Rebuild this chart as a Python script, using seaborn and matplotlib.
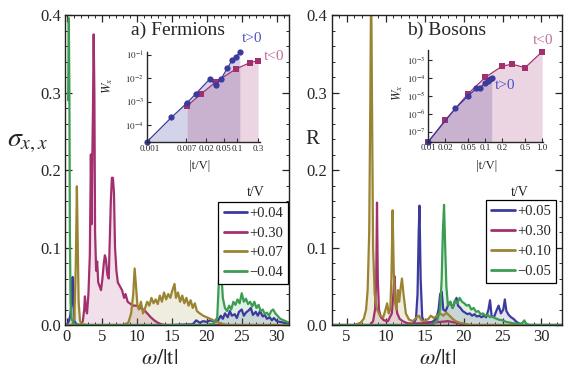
import numpy as np
import matplotlib
matplotlib.use('Agg')
import matplotlib.pyplot as plt
import seaborn as sns
from matplotlib.ticker import MultipleLocator, FixedLocator, NullLocator

# spectra (omega/|t| vs sigma or R)

# a) Fermions
fer_labels = ['+0.04', '+0.30', '+0.07', '\u22120.04']

fer_w_blue = [0.0, 0.3, 0.5, 0.7, 0.85, 0.95, 1.1, 1.4, 2, 5, 10, 15, 18, 18.5, 19, 19.5, 20, 20.5, 21, 21.5,
              22, 22.3, 22.6, 23, 23.3, 23.6, 24, 24.3, 24.6, 25, 25.3, 25.6, 26, 26.3, 26.6, 27, 27.3, 27.6,
              28, 28.3, 28.6, 29, 29.3, 29.6, 30, 30.5, 31, 31.5, 32]
fer_s_blue = [0.0, 0.005, 0.012, 0.03, 0.062, 0.03, 0.005, 0.001, 0, 0, 0, 0, 0.001, 0.006, 0.003, 0.005, 0.004,
              0.006, 0.005, 0.004, 0.012, 0.008, 0.015, 0.01, 0.018, 0.012, 0.014, 0.009, 0.017, 0.02, 0.012,
              0.016, 0.019, 0.022, 0.013, 0.017, 0.012, 0.018, 0.011, 0.013, 0.008, 0.01, 0.006, 0.009, 0.005,
              0.004, 0.003, 0.002, 0.001]

fer_w_pink = [0, 2.0, 2.3, 2.5, 2.6, 2.75, 2.9, 3.1, 3.3, 3.45, 3.55, 3.65, 3.75, 3.85, 3.95, 4.05, 4.2, 4.35,
              4.5, 4.7, 4.9, 5.1, 5.3, 5.45, 5.6, 5.8, 6.0, 6.15, 6.3, 6.45, 6.6, 6.75, 6.9, 7.1, 7.3, 7.6, 7.9,
              8.2, 8.4, 8.7, 9.0, 9.5, 10, 10.5, 11, 11.5, 12, 12.5, 13, 13.5, 14, 32]
fer_s_pink = [0, 0, 0.005, 0.02, 0.037, 0.02, 0.015, 0.04, 0.09, 0.22, 0.13, 0.21, 0.28, 0.375, 0.3, 0.12,
              0.07, 0.082, 0.055, 0.05, 0.045, 0.06, 0.08, 0.09, 0.085, 0.065, 0.06, 0.11, 0.16, 0.19, 0.19,
              0.17, 0.1, 0.07, 0.055, 0.05, 0.045, 0.035, 0.04, 0.03, 0.028, 0.025, 0.025, 0.022, 0.02, 0.015,
              0.01, 0.006, 0.003, 0.001, 0, 0]

fer_w_tan = [0, 0.8, 1.1, 1.3, 1.45, 1.55, 1.7, 1.9, 2.2, 3, 5, 8, 8.8, 9.2, 9.5, 9.7, 9.9, 10.1, 10.3, 10.6,
             10.9, 11.2, 11.5, 11.8, 12.1, 12.4, 12.7, 13, 13.3, 13.6, 13.9, 14.2, 14.5, 14.8, 15.1, 15.4, 15.6,
             15.9, 16.2, 16.5, 16.8, 17.1, 17.4, 17.7, 18, 18.3, 18.6, 19, 19.5, 20, 20.5, 21, 21.5, 22, 23, 32]
fer_s_tan = [0, 0, 0.01, 0.08, 0.179, 0.12, 0.03, 0.005, 0.001, 0, 0, 0, 0.003, 0.015, 0.04, 0.073, 0.05,
             0.025, 0.02, 0.03, 0.015, 0.022, 0.03, 0.025, 0.035, 0.028, 0.033, 0.027, 0.038, 0.03, 0.042,
             0.033, 0.04, 0.035, 0.045, 0.053, 0.035, 0.042, 0.03, 0.038, 0.028, 0.035, 0.025, 0.032, 0.022,
             0.028, 0.018, 0.015, 0.012, 0.01, 0.008, 0.006, 0.004, 0.002, 0, 0]

fer_w_green = [0.2, 0.3, 0.38, 0.45, 0.55, 0.7, 1.0, 1.5, 5, 15, 20, 21, 21.5, 21.7, 21.9, 22.1, 22.3, 22.6,
               22.9, 23.2, 23.5, 23.8, 24.1, 24.4, 24.7, 25, 25.3, 25.6, 25.9, 26.2, 26.5, 26.8, 27.1, 27.4,
               27.7, 28, 28.3, 28.6, 28.9, 29.2, 29.5, 29.8, 30.1, 30.5, 31, 31.5, 32]
fer_s_green = [0.29, 0.396, 0.3, 0.12, 0.03, 0.008, 0.002, 0, 0, 0, 0, 0.002, 0.01, 0.05, 0.075, 0.065, 0.035,
               0.022, 0.018, 0.025, 0.02, 0.03, 0.026, 0.033, 0.028, 0.041, 0.03, 0.034, 0.027, 0.03, 0.024,
               0.03, 0.022, 0.026, 0.018, 0.02, 0.014, 0.016, 0.012, 0.018, 0.02, 0.015, 0.012, 0.008, 0.006,
               0.004, 0.002]

# b) Bosons
bos_labels = ['+0.05', '+0.30', '+0.10', '\u22120.05']

bos_w_blue = [3, 13.5, 13.9, 14.1, 14.25, 14.35, 14.5, 14.7, 15, 16, 16.5, 16.8, 17.0, 17.2, 17.4, 17.7, 18,
              18.3, 18.6, 18.9, 19.1, 19.3, 19.6, 19.9, 20.2, 20.5, 20.8, 21.1, 21.4, 21.7, 22, 22.3, 22.6,
              22.9, 23.2, 23.4, 23.6, 23.9, 24.2, 24.5, 24.8, 25.1, 25.3, 25.5, 25.8, 26.1, 26.4, 26.8, 27.5, 33]
bos_s_blue = [0, 0, 0.008, 0.04, 0.12, 0.154, 0.06, 0.01, 0.003, 0.004, 0.008, 0.02, 0.04, 0.043, 0.02,
              0.018, 0.025, 0.03, 0.022, 0.03, 0.035, 0.025, 0.022, 0.018, 0.016, 0.014, 0.015, 0.012, 0.014,
              0.011, 0.012, 0.01, 0.012, 0.01, 0.02, 0.032, 0.012, 0.01, 0.018, 0.025, 0.015, 0.02, 0.033,
              0.018, 0.013, 0.01, 0.008, 0.004, 0, 0]

bos_w_pink = [3, 8.0, 8.4, 8.65, 8.8, 8.9, 9.0, 9.15, 9.4, 9.8, 10.3, 10.8, 11.0, 11.15, 11.3, 11.5, 11.8,
              12.2, 12.6, 13, 14, 16, 17, 18, 19, 20, 33]
bos_s_pink = [0, 0, 0.005, 0.02, 0.06, 0.158, 0.06, 0.02, 0.01, 0.006, 0.005, 0.015, 0.04, 0.063, 0.03,
              0.015, 0.008, 0.005, 0.003, 0.002, 0.002, 0.003, 0.004, 0.005, 0.003, 0, 0]

bos_w_tan = [3, 6, 6.8, 7.2, 7.5, 7.7, 7.9, 8.05, 8.15, 8.25, 8.4, 8.6, 8.9, 9.3, 9.7, 10.0, 10.2, 10.4, 10.6,
             10.75, 10.9, 11.05, 11.2, 11.4, 11.6, 11.75, 11.9, 12.1, 12.3, 12.6, 13, 13.5, 14, 14.3, 14.6, 15,
             15.5, 15.8, 16.2, 16.6, 17, 17.4, 17.8, 18.2, 18.6, 19, 19.5, 20, 21, 33]
bos_s_tan = [0, 0, 0.003, 0.008, 0.02, 0.045, 0.12, 0.3, 0.45, 0.3, 0.1, 0.04, 0.02, 0.012, 0.01, 0.02, 0.028,
             0.015, 0.02, 0.06, 0.148, 0.07, 0.03, 0.02, 0.045, 0.03, 0.045, 0.06, 0.04, 0.015, 0.007, 0.005,
             0.01, 0.012, 0.006, 0.005, 0.008, 0.012, 0.009, 0.012, 0.015, 0.012, 0.016, 0.012, 0.008, 0.005,
             0.003, 0.002, 0, 0]

bos_w_green = [3, 16, 16.6, 17.0, 17.2, 17.35, 17.5, 17.65, 17.8, 18, 18.3, 18.6, 18.9, 19.2, 19.5, 19.8,
               20.1, 20.4, 20.7, 21, 21.3, 21.6, 21.9, 22.2, 22.5, 22.8, 23.1, 23.4, 23.7, 24, 24.5, 25, 25.5,
               26, 26.5, 27, 27.5, 27.8, 28, 28.2, 28.5, 33]
bos_s_green = [0, 0, 0.005, 0.02, 0.06, 0.12, 0.155, 0.1, 0.05, 0.025, 0.03, 0.022, 0.032, 0.028, 0.035,
               0.03, 0.028, 0.025, 0.026, 0.02, 0.022, 0.017, 0.018, 0.014, 0.015, 0.012, 0.013, 0.01, 0.011,
               0.009, 0.007, 0.006, 0.004, 0.003, 0.002, 0.002, 0.002, 0.006, 0.002, 0.001, 0, 0]

# insets: W_x vs |t/V|
fer_t_pos = [0.00087, 0.0032, 0.0071, 0.0113, 0.024, 0.033, 0.043, 0.060, 0.076, 0.093, 0.115]
fer_W_pos = [1.8e-5, 2.1e-4, 8.5e-4, 2.1e-3, 9.5e-3, 5.0e-3, 9.5e-3, 2.7e-2, 5.9e-2, 8.1e-2, 0.13]
fer_t_neg = [0.0073, 0.015, 0.033, 0.093, 0.195, 0.3]
fer_W_neg = [6.6e-4, 2.1e-3, 7.1e-3, 2.5e-2, 4.7e-2, 5.7e-2]

bos_t_pos = [0.01, 0.03, 0.05, 0.07, 0.08, 0.1, 0.11, 0.12, 0.13]
bos_W_pos = [2.75e-8, 2.0e-6, 9.8e-6, 2.6e-5, 2.8e-5, 5.0e-5, 6.8e-5, 8.3e-5, 9.5e-5]
bos_t_neg = [0.01, 0.02, 0.05, 0.1, 0.2, 0.3, 0.5, 1.0]
bos_W_neg = [2.75e-8, 4.5e-7, 1.3e-5, 1.07e-4, 4.6e-4, 5.8e-4, 3.7e-4, 2.9e-3]

colors = ['#3b3b9e', '#a3306e', '#9a8431', '#3c9c52']

sns.set_theme(style='ticks')
plt.rcParams['font.family'] = ['Liberation Serif', 'DejaVu Serif']
plt.rcParams['mathtext.fontset'] = 'stix'
plt.rcParams['axes.linewidth'] = 1.0

fig = plt.figure(figsize=(5.64, 3.75), dpi=100)
ax1 = fig.add_axes([0.1152, 0.1333, 0.3972, 0.8267])
ax2 = fig.add_axes([0.588, 0.1333, 0.408, 0.8267])


def spectrum(ax, w, s, c, lab):
    sns.lineplot(x=w, y=s, color=c, lw=1.6, ax=ax, label=lab, estimator=None, sort=False)
    ax.fill_between(w, s, color=c, alpha=0.15, lw=0)


fer = [(fer_w_blue, fer_s_blue), (fer_w_pink, fer_s_pink), (fer_w_tan, fer_s_tan), (fer_w_green, fer_s_green)]
bos = [(bos_w_blue, bos_s_blue), (bos_w_pink, bos_s_pink), (bos_w_tan, bos_s_tan), (bos_w_green, bos_s_green)]
for (w, s), c, lab in zip(fer, colors, fer_labels):
    spectrum(ax1, w, s, c, lab)
for (w, s), c, lab in zip(bos, colors, bos_labels):
    spectrum(ax2, w, s, c, lab)

for ax in (ax1, ax2):
    ax.set_ylim(0, 0.4)
    ax.yaxis.set_major_locator(MultipleLocator(0.1))
    ax.yaxis.set_minor_locator(MultipleLocator(0.02))
    ax.xaxis.set_major_locator(MultipleLocator(5))
    ax.xaxis.set_minor_locator(MultipleLocator(1))
    ax.yaxis.set_major_formatter(matplotlib.ticker.FormatStrFormatter('%.1f'))
    ax.tick_params(which='both', direction='in', top=True, right=True, labelsize=12, pad=3)
    ax.tick_params(which='major', length=5, width=0.9)
    ax.tick_params(which='minor', length=2.5, width=0.7)
    ax.set_xlabel('')
    ax.set_ylabel('')
    for sp in ax.spines.values():
        sp.set_color('#222222')

ax1.set_xlim(-0.25, 31.75)
ax2.set_xlim(3.08, 32.6)
ax2.set_xticks([5, 10, 15, 20, 25, 30])

leg_kw = dict(loc='upper right', borderaxespad=0, fontsize=10.5, handlelength=1.6, handletextpad=0.15,
              labelspacing=0.45, borderpad=0.35, fancybox=False, edgecolor='black', framealpha=1)
l1 = ax1.legend(bbox_to_anchor=(0.996, 0.398), **leg_kw)
l2 = ax2.legend(bbox_to_anchor=(0.974, 0.403), **leg_kw)
for lg in (l1, l2):
    lg.get_frame().set_linewidth(0.9)
    for h in lg.get_lines():
        h.set_linewidth(2)

# insets
in1 = fig.add_axes([0.260, 0.6205, 0.2009, 0.2408])
in2 = fig.add_axes([0.7594, 0.6221, 0.204, 0.2445])


def inset(ax, tp, Wp, tn, Wn, ylo):
    ax.fill_between(tp, Wp, ylo, color=colors[0], alpha=0.22, lw=0)
    ax.fill_between(tn, Wn, ylo, color=colors[1], alpha=0.2, lw=0)
    sns.lineplot(x=tn, y=Wn, color=colors[1], lw=0.9, marker='s', markersize=4, markeredgewidth=0,
                 estimator=None, sort=False, ax=ax, clip_on=False)
    sns.lineplot(x=tp, y=Wp, color=colors[0], lw=0.9, marker='o', markersize=4.5, markeredgewidth=0,
                 estimator=None, sort=False, ax=ax, clip_on=False)
    ax.set_xscale('log')
    ax.set_yscale('log')
    ax.set_facecolor('none')
    ax.spines['top'].set_visible(False)
    ax.spines['right'].set_visible(False)
    ax.tick_params(which='both', direction='in', labelsize=6.5, length=3, width=0.8, pad=2)
    ax.xaxis.set_minor_locator(NullLocator())
    ax.yaxis.set_minor_locator(NullLocator())
    ax.set_xlabel('')
    ax.set_ylabel('')


inset(in1, fer_t_pos, fer_W_pos, fer_t_neg, fer_W_neg, 1.78e-5)
in1.set_xlim(0.00087, 0.33)
in1.set_ylim(1.78e-5, 0.135)
in1.xaxis.set_major_locator(FixedLocator([0.001, 0.007, 0.02, 0.05, 0.1, 0.3]))
in1.set_xticklabels(['0.001', '0.007', '0.02', '0.05', '0.1', '0.3'])
in1.yaxis.set_major_locator(FixedLocator([1e-4, 1e-3, 1e-2, 1e-1]))
in1.set_yticklabels(['$10^{-4}$', '$10^{-3}$', '$10^{-2}$', '$10^{-1}$'])

inset(in2, bos_t_pos, bos_W_pos, bos_t_neg, bos_W_neg, 2.75e-8)
in2.set_xlim(0.01, 1.05)
in2.set_ylim(2.75e-8, 3.6e-3)
in2.xaxis.set_major_locator(FixedLocator([0.01, 0.02, 0.05, 0.1, 0.2, 0.5, 1.0]))
in2.set_xticklabels(['0.01', '0.02', '0.05', '0.1', '0.2', '0.5', '1.0'])
in2.yaxis.set_major_locator(FixedLocator([1e-7, 1e-6, 1e-5, 1e-4, 1e-3]))
in2.set_yticklabels(['$10^{-7}$', '$10^{-6}$', '$10^{-5}$', '$10^{-4}$', '$10^{-3}$'])

# text labels
fig.text(0.3156, 0.92, 'a) Fermions', fontsize=14, ha='center', va='center')
fig.text(0.7926, 0.92, 'b) Bosons', fontsize=14, ha='center', va='center')
fig.text(0.4468, 0.896, 't>0', fontsize=11, color='#5050c0', ha='center', va='center')
fig.text(0.4858, 0.848, 't<0', fontsize=11, color='#c0709c', ha='center', va='center')
fig.text(0.8954, 0.7707, 't>0', fontsize=11, color='#5050c0', ha='center', va='center')
fig.text(0.9628, 0.8933, 't<0', fontsize=11, color='#c0709c', ha='center', va='center')
fig.text(0.3546, 0.5573, '|t/V|', fontsize=9, ha='center', va='center')
fig.text(0.8635, 0.5573, '|t/V|', fontsize=9, ha='center', va='center')
fig.text(0.1915, 0.7707, '$W_x$', fontsize=9, rotation=90, ha='center', va='center')
fig.text(0.7057, 0.752, '$W_x$', fontsize=9, rotation=90, ha='center', va='center')
fig.text(0.4539, 0.488, 't/V', fontsize=10, ha='center', va='center')
fig.text(0.922, 0.488, 't/V', fontsize=10, ha='center', va='center')
fig.text(0.0479, 0.619, r'$\sigma_{x,x}$', fontsize=20, ha='center', va='center')
fig.text(0.553, 0.627, 'R', fontsize=15, ha='center', va='center')
fig.text(0.282, 0.04, r'$\omega/|\mathrm{t}|$', fontsize=16, ha='center', va='center')
fig.text(0.775, 0.04, r'$\omega/|\mathrm{t}|$', fontsize=16, ha='center', va='center')

fig.savefig('out.png', dpi=100)
